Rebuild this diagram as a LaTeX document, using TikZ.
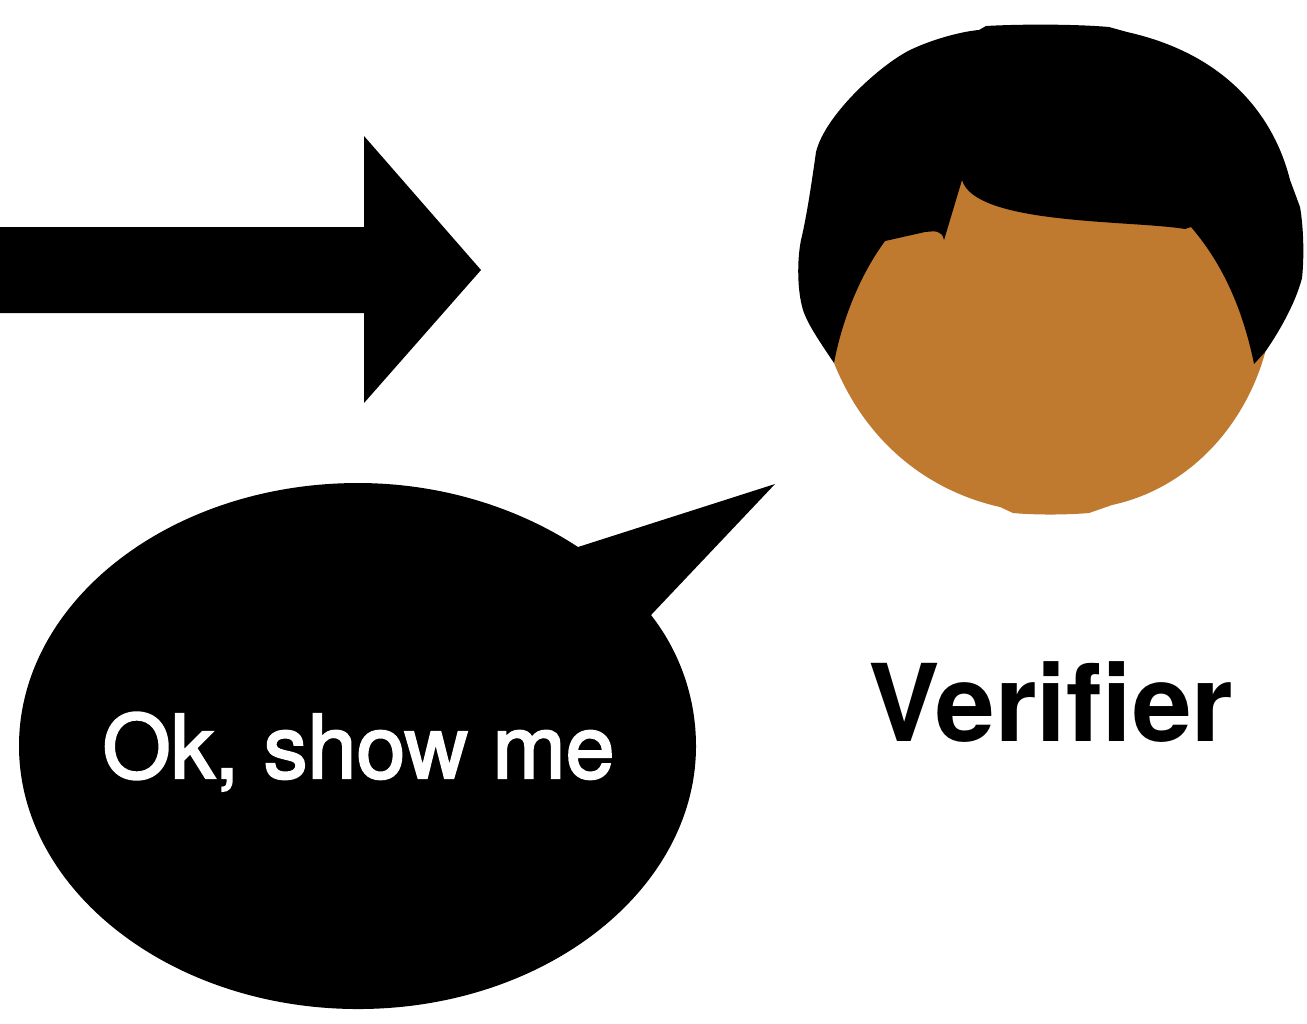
\documentclass[tikz,border=0pt]{standalone}
\usepackage{fontspec}
\setmainfont{TeX Gyre Heros}
\newfontfamily\speechfont[FakeBold=2.4]{TeX Gyre Heros}
\definecolor{skin}{RGB}{191,122,48}
\tikzset{
  shape fill/.style={fill=black,draw=none},
  big label/.style={font=\bfseries\fontsize{30.5}{36}\selectfont,text=black,inner sep=0pt,anchor=base},
  speech label/.style={font=\speechfont\fontsize{25}{32}\selectfont,text=white,inner sep=0pt,anchor=base}
}
\begin{document}
\begin{tikzpicture}[x=0.01cm,y=-0.01cm]
\useasboundingbox (0,0) rectangle (1307,1023);
% arrow
\fill[shape fill] (0,227) -- (364,227) -- (364,136) -- (481,270) -- (364,403) -- (364,313) -- (0,313) -- cycle;
% face
\fill[skin] (834,363) .. controls (865,440) and (925,490) .. (1000,507) -- (1013,513) .. controls (1035,515) and (1065,515) .. (1089,513) -- (1112,505) .. controls (1190,488) and (1245,425) .. (1265,353) -- (1270,170) -- (830,170) -- cycle;
% hair
\fill[shape fill] (834,363) .. controls (820,342) and (808,325) .. (803,310) .. controls (797,290) and (797,260) .. (801,240) .. controls (807,215) and (812,180) .. (816,152) .. controls (825,115) and (880,65) .. (910,50) .. controls (935,38) and (965,31) .. (979,30) -- (986,26) .. controls (1020,24) and (1075,24) .. (1109,27) -- (1127,32) .. controls (1230,55) and (1275,120) .. (1290,180) -- (1300,207) .. controls (1304,230) and (1304,260) .. (1302,278) .. controls (1295,305) and (1277,335) .. (1265,352) -- (1254,364) .. controls (1245,320) and (1228,270) .. (1191,227) -- (1185,229) .. controls (1130,220) and (975,225) .. (962,180) -- (944,240) .. controls (942,230) and (935,231) .. (925,232) -- (885,241) .. controls (860,275) and (842,320) .. (834,363) -- cycle;
% speech balloon
\fill[shape fill] (578,547) -- (775,484) -- (651,615) .. controls (680,652) and (696,698) .. (696,746) .. controls (696,890) and (545,1009) .. (358,1009) .. controls (171,1009) and (19,890) .. (19,746) .. controls (19,601) and (171,483) .. (358,483) .. controls (440,483) and (517,507) .. (578,547) -- cycle;
\node[speech label] (speech) at (358.5,778) {Ok, show me};
\node[big label] (verifier) at (1051,741) {Verifier};
\end{tikzpicture}
\end{document}
